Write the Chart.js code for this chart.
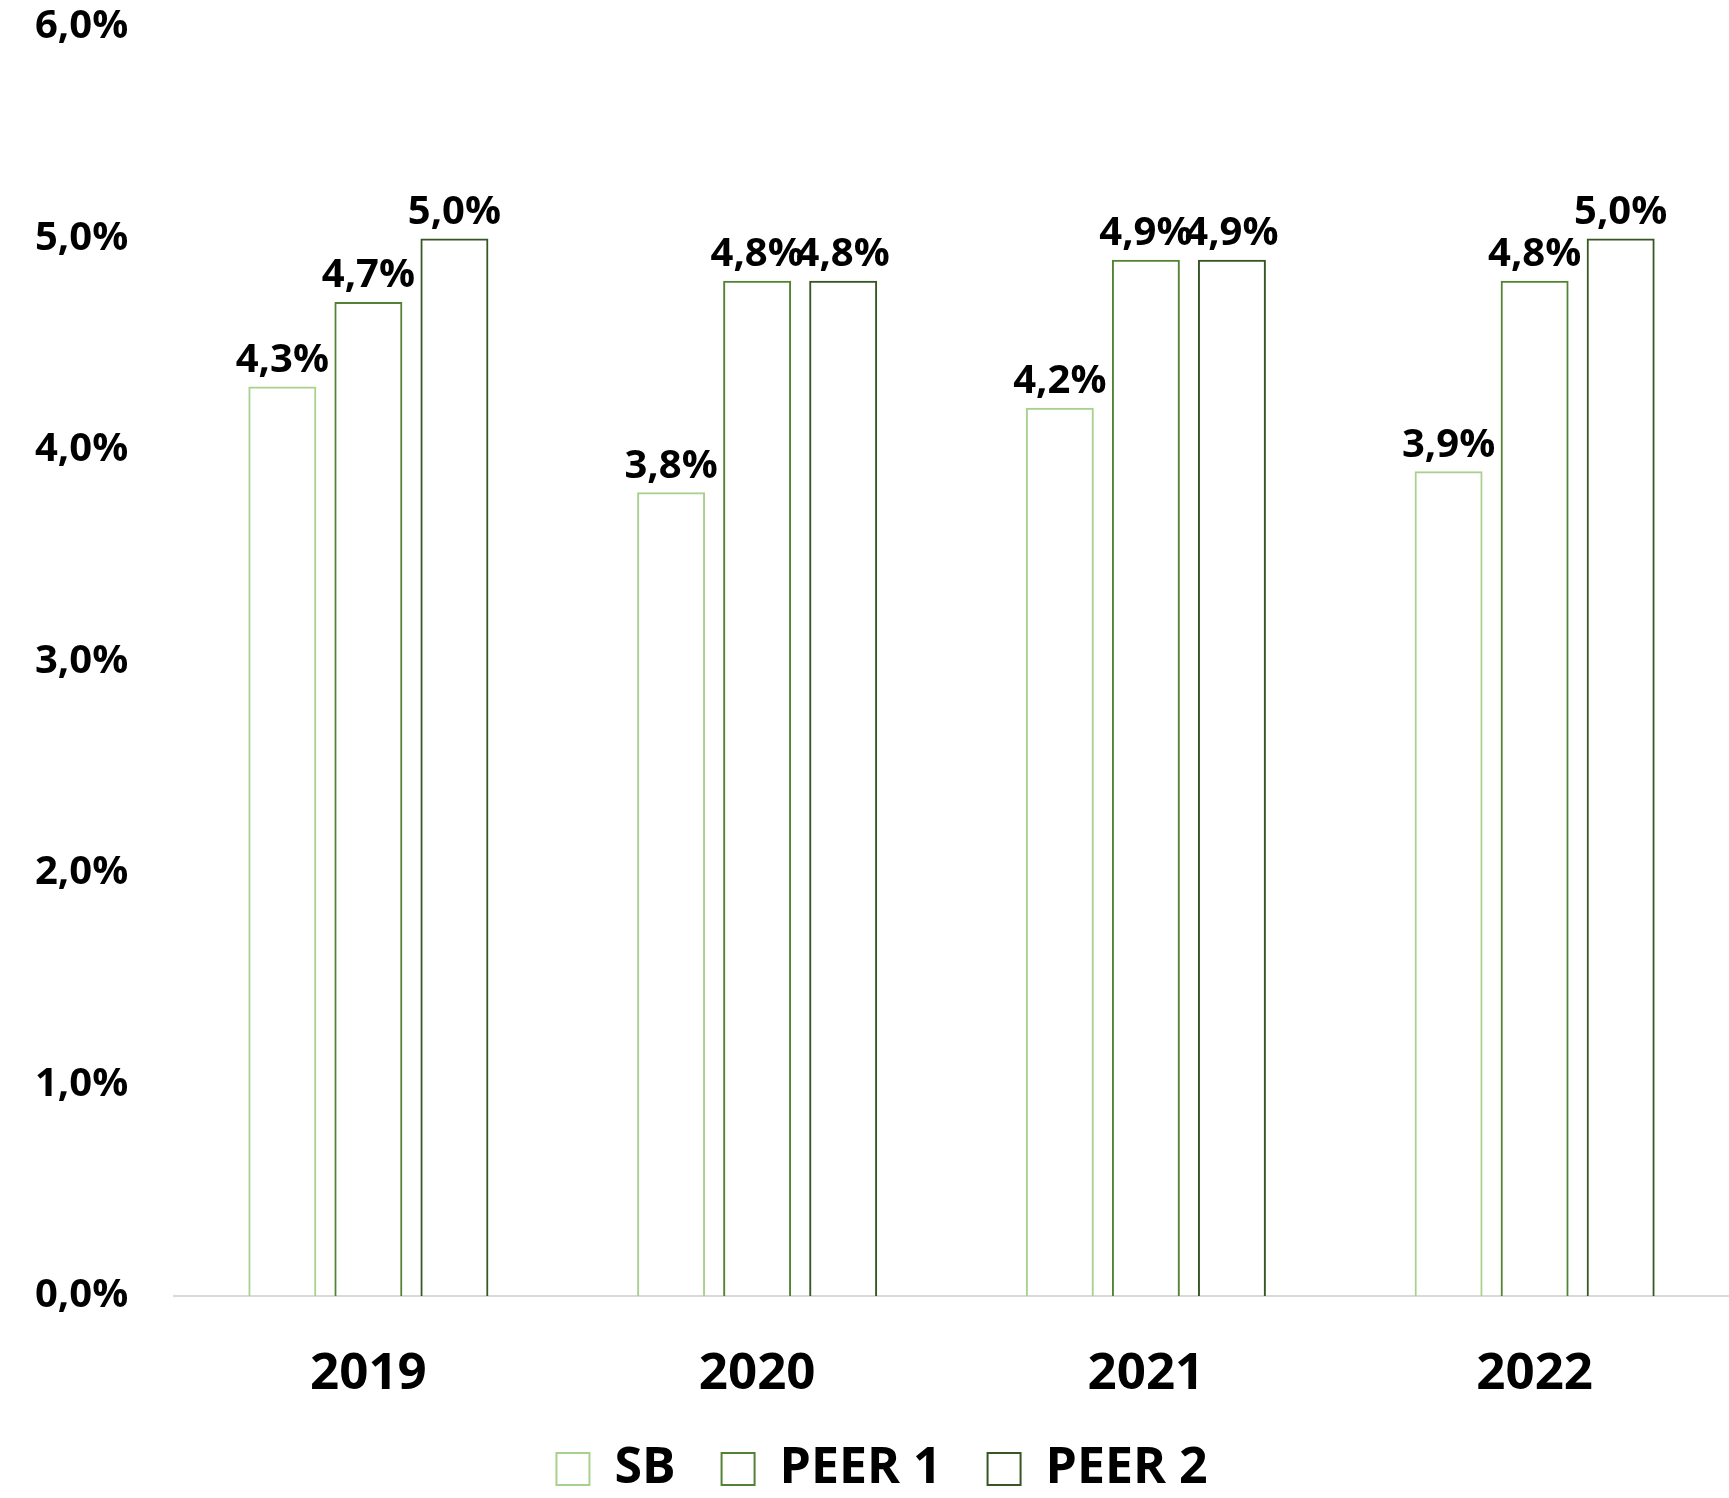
<!DOCTYPE html>
<html>
<head>
<meta charset="utf-8">
<script src="https://cdn.jsdelivr.net/npm/chart.js@4/dist/chart.umd.min.js"></script>
<style>
  html, body { margin: 0; padding: 0; background: #fff; }
  #wrap { width: 1729px; height: 1498px; }
</style>
</head>
<body>
<div id="wrap"><canvas id="chart"></canvas></div>
<script>
const years = ['2019', '2020', '2021', '2022'];
const sbValues = [4.3, 3.8, 4.2, 3.9];
const peer1Values = [4.7, 4.8, 4.9, 4.8];
const peer2Values = [5.0, 4.8, 4.9, 5.0];
const yTicks = [0, 1, 2, 3, 4, 5, 6];

const FONT = "'Open Sans', 'DejaVu Sans', sans-serif";

function pct(v) {
  return v.toFixed(1).replace('.', ',') + '%';
}

// draws the value above each bar
const barLabels = {
  id: 'barLabels',
  afterDatasetsDraw(chart) {
    const ctx = chart.ctx;
    ctx.save();
    ctx.font = 'bold 40px ' + FONT;
    ctx.fillStyle = '#000';
    ctx.textAlign = 'center';
    ctx.textBaseline = 'bottom';
    chart.data.datasets.forEach((ds, i) => {
      chart.getDatasetMeta(i).data.forEach((bar, j) => {
        ctx.fillText(pct(ds.data[j]), bar.x, bar.y - 6);
      });
    });
    ctx.restore();
  }
};

function makeSet(label, data, color) {
  return {
    label: label,
    data: data,
    backgroundColor: 'rgba(255,255,255,0)',
    borderColor: color,
    borderWidth: 2,
    categoryPercentage: 0.664,
    barPercentage: 0.79
  };
}

new Chart(document.getElementById('chart'), {
  type: 'bar',
  data: {
    labels: years,
    datasets: [
      makeSet('SB', sbValues, '#a9d18e'),
      makeSet('PEER 1', peer1Values, '#548235'),
      makeSet('PEER 2', peer2Values, '#375623')
    ]
  },
  options: {
    responsive: true,
    maintainAspectRatio: false,
    animation: false,
    layout: { padding: { left: 35, right: 0, top: 11, bottom: -6 } },
    plugins: {
      tooltip: { enabled: false },
      legend: {
        position: 'bottom',
        labels: {
          color: '#000',
          font: { family: FONT, size: 50, weight: 'bold' },
          boxWidth: 33,
          boxHeight: 32,
          padding: 46,
          generateLabels(chart) {
            return chart.data.datasets.map((ds, i) => ({
              text: ds.label,
              fillStyle: '#fff',
              strokeStyle: ds.borderColor,
              lineWidth: 2,
              datasetIndex: i,
              hidden: false
            }));
          }
        }
      }
    },
    scales: {
      x: {
        grid: { display: false },
        border: { display: true, color: '#d9d9d9', width: 2 },
        ticks: {
          color: '#000',
          padding: 40,
          font: { family: FONT, size: 51, weight: 'bold' }
        },
        afterFit(scale) { scale.height = 102; }
      },
      y: {
        min: 0,
        max: 6,
        grid: { display: false },
        border: { display: false },
        afterBuildTicks(scale) {
          scale.ticks = yTicks.map(v => ({ value: v }));
        },
        afterFit(scale) { scale.width = 139; },
        ticks: {
          color: '#000',
          crossAlign: 'far',
          font: { family: FONT, size: 40, weight: 'bold' },
          callback: (v) => pct(v)
        }
      }
    }
  },
  plugins: [barLabels]
});
</script>
</body>
</html>
